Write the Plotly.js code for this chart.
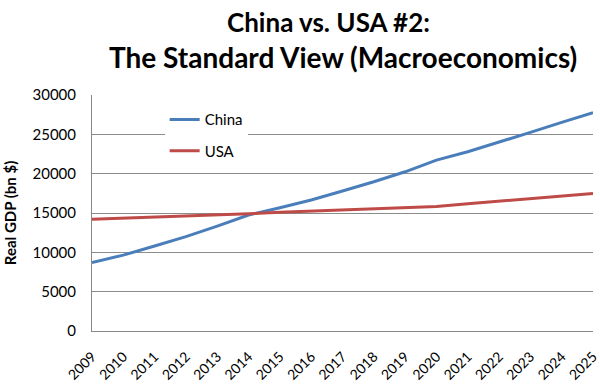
<!DOCTYPE html>
<html>
<head>
<meta charset="utf-8">
<script src="https://cdn.plot.ly/plotly-3.0.1.min.js"></script>
<style>html,body{margin:0;padding:0;background:#fff;}#chart{width:600px;height:389px;}</style>
</head>
<body>
<div id="chart"></div>
<script>
const years = ["2009","2010","2011","2012","2013","2014","2015","2016","2017","2018","2019","2020","2021","2022","2023","2024","2025"];
const china = [8700,9650,10800,12000,13340,14740,15670,16650,17800,18970,20240,21730,22780,24060,25250,26520,27740];
const usa = [14190,14320,14440,14570,14700,14900,15080,15250,15370,15500,15670,15840,16170,16520,16810,17200,17490];
const yTicks = [0,5000,10000,15000,20000,25000,30000];
const titleLines = ["China vs. USA #2:", "The Standard View (Macroeconomics)"];

const FONT = "Lato, 'Open Sans', sans-serif";

const traces = [
  {x: years, y: china, name: "China", type: "scatter", mode: "lines", legend: "legend",
   line: {color: "#4A7EBB", width: 3}},
  {x: years, y: usa, name: "USA", type: "scatter", mode: "lines", legend: "legend2",
   line: {color: "#BE4B48", width: 3}}
];

const legendBase = {
  xanchor: "left", yanchor: "middle",
  bgcolor: "#fff", borderwidth: 0,
  font: {family: FONT, size: 15, color: "#000"},
  itemwidth: 30
};

const layout = {
  width: 600, height: 389,
  margin: {l: 92, r: 7, t: 95, b: 58},
  paper_bgcolor: "#fff", plot_bgcolor: "#fff",
  font: {family: FONT, color: "#000", size: 13},
  annotations: [
    {text: "<b>" + titleLines[0] + "</b>", xref: "paper", yref: "paper",
     x: 0.473, y: 1.31, xanchor: "center", yanchor: "middle", showarrow: false,
     font: {family: FONT, size: 26, color: "#000"}},
    {text: "<b>" + titleLines[1] + "</b>", xref: "paper", yref: "paper",
     x: 0.5, y: 1.16, xanchor: "center", yanchor: "middle", showarrow: false,
     font: {family: FONT, size: 28, color: "#000"}}
  ],
  showlegend: true,
  legend: Object.assign({x: 0.145, y: 0.895}, legendBase),
  legend2: Object.assign({x: 0.145, y: 0.763}, legendBase),
  xaxis: {
    type: "category",
    tickangle: -45,
    tickfont: {family: FONT, size: 14, color: "#000"},
    ticklabelstandoff: 11,
    showgrid: false,
    showline: true, linecolor: "#888", linewidth: 1,
    ticks: "", zeroline: false
  },
  yaxis: {
    range: [0, 30000],
    tickvals: yTicks,
    ticktext: yTicks.map(String),
    tickfont: {family: FONT, size: 15, color: "#000"},
    ticklabelstandoff: 12,
    showgrid: true, gridcolor: "#8c8c8c", gridwidth: 1,
    showline: true, linecolor: "#888", linewidth: 1,
    zeroline: false, ticks: "", ticklen: 0,
    title: {text: "<b>Real GDP (bn $)</b>", font: {family: FONT, size: 15, color: "#000"}, standoff: 12}
  }
};

Plotly.newPlot("chart", traces, layout, {displayModeBar: false, staticPlot: true});
</script>
</body>
</html>
